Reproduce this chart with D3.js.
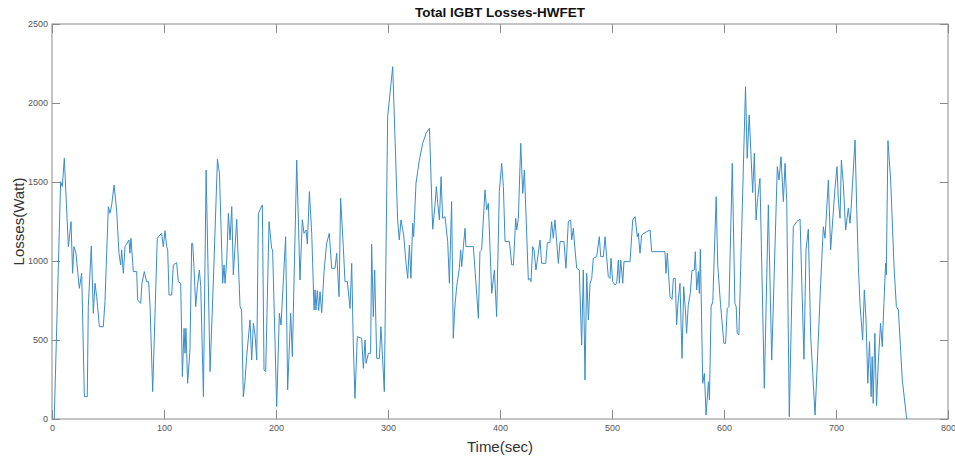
<!DOCTYPE html>
<html>
<head>
<meta charset="utf-8">
<script src="https://cdn.jsdelivr.net/npm/d3@7"></script>
<style>
  body { margin: 0; background: #fff; }
  text { font-family: "Liberation Sans", Arial, sans-serif; }
</style>
</head>
<body>
<div id="chart"></div>
<script>
// Data
var timeSec = [2, 7.7, 9.2, 11, 14.6, 17, 18.4, 19.6, 21.4, 24.4, 26.5, 28.9, 31.5, 32.4, 35.1, 36.9, 38.4, 39.9, 42.3, 45.8,
    47.3, 50.3, 51.8, 53.3, 55.4, 57.7, 59.8, 61.3, 62.2, 63.7, 65.2, 68.7, 69.6, 70.5, 72.6, 75.6, 76.5, 79.2, 80.3, 82.4,
    84.5, 86.3, 87.5, 89.9, 94, 96.4, 97.9, 99.4, 100.9, 102.4, 103.3, 104.5, 106.9, 108.3, 111.3, 112.8, 114.9, 116.4, 117.9, 118.8,
    119.6, 121.1, 123.2, 124.7, 125.6, 126.8, 128.3, 129.8, 131.6, 132.8, 135.2, 137.6, 141.1, 144.1, 147.7, 149.5, 152.4, 153.6, 154.5, 156,
    157.5, 159, 160.5, 161.9, 164.9, 167.9, 169.3, 170.8, 172.3, 173.8, 176.8, 178.3, 179.8, 181.3, 182.8, 184.3, 187.8, 189.3, 190.8, 193.8,
    196.1, 197, 200.6, 203, 204.5, 208.6, 210.4, 213.1, 214.6, 218.5, 221.4, 223.5, 225, 226.8, 228, 229.8, 231.9, 234, 234.9, 235.7,
    236.9, 238.1, 239.3, 240.8, 242.9, 245.2, 247.6, 249.7, 252.7, 254.2, 256.3, 257.7, 260.1, 261.6, 263.7, 266.1, 267.6, 269, 270.5, 272.6,
    276.5, 278, 279.5, 280.4, 282.5, 284.5, 285.4, 286.9, 288.1, 289.9, 292.3, 293.7, 296.7, 299.7, 304.2, 308.6, 310.1, 311.6, 314, 316.1,
    317.6, 319.1, 320.5, 322, 322.9, 325, 328, 331, 334, 337, 339.9, 342, 343.2, 344.4, 345.9, 347.4, 348.8, 350.9, 353.3, 354.8,
    356.8, 358.3, 359.5, 361.3, 363.7, 364.9, 365.8, 367.3, 368.8, 369.6, 376.2, 377.7, 380.7, 382.1, 383.6, 386.6, 388.1, 389.6, 392.6, 395,
    397, 399.4, 401.5, 403, 404.5, 408.4, 410.5, 412, 414, 414.9, 416.4, 418.5, 420.3, 421.8, 425.3, 426.8, 427.7, 429.2, 430.4, 432.1,
    434.2, 435.7, 437.2, 440.8, 442.3, 444.6, 446.1, 447.6, 449.1, 450.6, 452.1, 453.6, 457.1, 458.9, 461, 463.1, 464, 465.5, 467, 468.5,
    470.8, 472.9, 474.4, 475.9, 477.4, 478.9, 480.4, 481.9, 483.3, 486.3, 488.7, 489.9, 492.3, 493.8, 495.2, 496.7, 498.2, 499.1, 500.6, 502.7,
    504.2, 505.7, 506.6, 507.8, 509.6, 510.7, 516.1, 518.5, 520.6, 522.6, 523.5, 525, 526.5, 531, 534, 535.4, 547.3, 548.2, 549.4, 551.8,
    553.6, 554.8, 556.5, 557.7, 558.9, 560.7, 562.5, 564, 565.5, 566.6, 568.1, 569.9, 571.4, 573.5, 574.4, 575.6, 577.1, 578, 578.9, 581,
    582.5, 584, 586.1, 587, 588.5, 590, 593, 594.4, 596.9, 599.9, 601.4, 602.9, 604.4, 607.4, 609.7, 610.9, 611.8, 613.3, 619.2, 620.7,
    622.5, 625.6, 627.1, 628.6, 629.8, 632.1, 636, 639.6, 642.6, 647.6, 649.1, 650.9, 653, 654.5, 656, 658.3, 661.9, 664.9, 667.9, 671.4,
    673.2, 675.3, 677.4, 681.3, 684.8, 686.3, 688.7, 690.2, 693.2, 695.2, 699.1, 700.9, 702.1, 703.6, 704.8, 706.5, 708.6, 711, 712.5, 713.4,
    717, 718.5, 720, 721.4, 723.8, 725.3, 726.8, 728.4, 729.9, 731.4, 732.3, 733.2, 734.7, 736.2, 737.7, 739.8, 741.3, 742.8, 744.3, 744.9,
    746.4, 748.8, 751.8, 753.9, 755.7, 759.2, 763.1];

var lossesWatt = [0, 1502, 1471, 1650, 1091, 1249, 922, 1091, 1049, 827, 922, 141, 141, 711, 1095, 669, 859, 774, 584, 584,
    743, 1344, 1302, 1355, 1481, 1323, 1049, 975, 1070, 922, 1091, 1133, 1049, 1144, 933, 933, 753, 732, 859, 933,
    869, 869, 720, 173, 1144, 1165, 1175, 1091, 1192, 1091, 1070, 785, 785, 975, 990, 869, 859, 268, 574, 416,
    574, 226, 437, 1112, 1112, 954, 711, 838, 943, 838, 141, 1576, 300, 880, 1644, 1555, 859, 975, 859, 1006,
    1302, 1133, 1344, 911, 1264, 711, 690, 141, 236, 395, 627, 373, 606, 532, 373, 1302, 1355, 310, 300, 1249,
    1080, 1070, 78, 669, 595, 1154, 184, 669, 395, 1639, 880, 1260, 1175, 1196, 1108, 1439, 1175, 690, 817, 690,
    812, 686, 806, 673, 933, 1112, 1175, 954, 954, 1049, 774, 1397, 1091, 869, 869, 700, 985, 479, 131, 521,
    511, 321, 500, 352, 416, 416, 1106, 648, 943, 384, 384, 584, 173, 1914, 2230, 1260, 1133, 1260, 1165, 985,
    890, 1101, 890, 1239, 1154, 1492, 1639, 1745, 1808, 1840, 1201, 1355, 1471, 1365, 1260, 1534, 1270, 1281, 1123, 859,
    1376, 511, 690, 838, 954, 1070, 964, 1091, 1207, 1091, 1091, 943, 637, 1059, 1070, 1450, 1323, 1365, 795, 943,
    648, 1439, 1618, 1471, 1123, 1123, 975, 975, 1270, 1196, 1270, 1745, 1428, 1576, 880, 890, 869, 1091, 1070, 943,
    1049, 1133, 985, 985, 1116, 1116, 1249, 1144, 1260, 1123, 985, 1123, 1123, 954, 1249, 1260, 1133, 1207, 1070, 954,
    943, 468, 943, 247, 922, 627, 859, 890, 1017, 1028, 1154, 1028, 1028, 1154, 1028, 901, 890, 1017, 869, 848,
    859, 1006, 859, 1006, 859, 996, 996, 1260, 1281, 1154, 1175, 1049, 1165, 1186, 1196, 1059, 1059, 922, 1049, 774,
    757, 890, 890, 595, 732, 859, 384, 838, 690, 542, 722, 795, 939, 943, 1059, 817, 933, 795, 1074, 226,
    289, 25, 236, 120, 711, 743, 1407, 975, 726, 479, 479, 700, 711, 1618, 732, 711, 542, 532, 2104, 1650,
    1924, 1433, 1682, 1260, 1376, 1523, 194, 1355, 373, 1597, 1513, 1660, 1376, 1618, 1376, 15, 1217, 1249, 1266, 378,
    1070, 1201, 521, 25, 606, 859, 1217, 1144, 1513, 1070, 1460, 1597, 1386, 1270, 1639, 1492, 1196, 1334, 1239, 1323,
    1766, 1334, 964, 732, 500, 817, 627, 226, 490, 141, 395, 99, 542, 82, 352, 606, 458, 732, 985, 911,
    1762, 1513, 964, 711, 690, 247, 0];

var xTicks = [0, 100, 200, 300, 400, 500, 600, 700, 800];
var yTicks = [0, 500, 1000, 1500, 2000, 2500];

var svgWidth = 955;
var svgHeight = 459;

var margin = { top: 24, right: 7, bottom: 40, left: 52 };
var chartWidth = svgWidth - margin.left - margin.right;
var chartHeight = svgHeight - margin.top - margin.bottom;

var svg = d3.select('#chart').append('svg')
    .attr('width', svgWidth)
    .attr('height', svgHeight);

var chartGroup = svg.append('g')
    .attr('transform', `translate(${margin.left}, ${margin.top})`);

// Scales
var xScale = d3.scaleLinear().domain([0, 800]).range([0, chartWidth]);
var yScale = d3.scaleLinear().domain([0, 2500]).range([chartHeight, 0]);

var axisColor = '#8a8a8a';
var labelColor = '#555';

// Axes (MATLAB style: ticks inside, mirrored on top/right)
function styleAxis(g) {
    g.select('.domain').remove();
    g.selectAll('.tick line').attr('stroke', axisColor);
    g.selectAll('.tick text')
        .attr('fill', labelColor)
        .style('font-size', '9px');
}

chartGroup.append('g')
    .attr('transform', `translate(0, ${chartHeight})`)
    .call(d3.axisBottom(xScale).tickValues(xTicks).tickSize(-9).tickPadding(4).tickFormat(d3.format('d')))
    .call(styleAxis)
    .selectAll('.tick text').attr('dy', '0.71em').attr('y', 6);

chartGroup.append('g')
    .call(d3.axisTop(xScale).tickValues(xTicks).tickSize(-9).tickFormat(''))
    .call(styleAxis);

chartGroup.append('g')
    .call(d3.axisLeft(yScale).tickValues(yTicks).tickSize(-8).tickPadding(4).tickFormat(d3.format('d')))
    .call(styleAxis)
    .selectAll('.tick text').attr('x', -4);

chartGroup.append('g')
    .attr('transform', `translate(${chartWidth}, 0)`)
    .call(d3.axisRight(yScale).tickValues(yTicks).tickSize(-8).tickFormat(''))
    .call(styleAxis);

// Box
chartGroup.append('rect')
    .attr('x', 0)
    .attr('y', 0)
    .attr('width', chartWidth)
    .attr('height', chartHeight)
    .attr('fill', 'none')
    .attr('stroke', axisColor)
    .attr('stroke-width', 1);

// Line
var line = d3.line()
    .x((d, i) => xScale(timeSec[i]))
    .y(d => yScale(d));

chartGroup.append('path')
    .datum(lossesWatt)
    .attr('d', line)
    .attr('fill', 'none')
    .attr('stroke', '#3a8dc8')
    .attr('stroke-width', 1);

// Title
svg.append('text')
    .attr('x', margin.left + chartWidth / 2)
    .attr('y', 17)
    .attr('text-anchor', 'middle')
    .style('font-size', '13.5px')
    .style('font-weight', 'bold')
    .attr('fill', '#111')
    .text('Total IGBT Losses-HWFET');

// X label
svg.append('text')
    .attr('x', margin.left + chartWidth / 2)
    .attr('y', 452)
    .attr('text-anchor', 'middle')
    .style('font-size', '15px')
    .attr('fill', '#333')
    .text('Time(sec)');

// Y label
svg.append('text')
    .attr('transform', `translate(24, ${margin.top + chartHeight / 2}) rotate(-90)`)
    .attr('text-anchor', 'middle')
    .style('font-size', '15px')
    .attr('fill', '#333')
    .text('Losses(Watt)');
</script>
</body>
</html>
